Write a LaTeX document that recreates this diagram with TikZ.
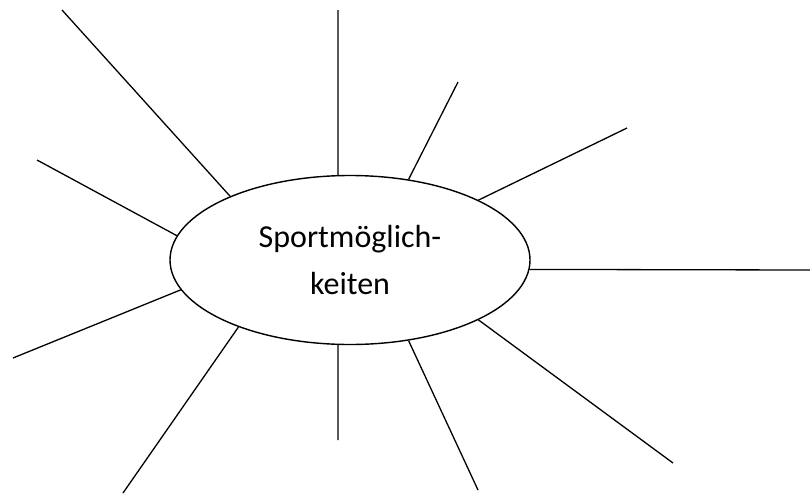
\documentclass[tikz,border=0pt]{standalone}
\usepackage{fontspec}
\setmainfont{Carlito}
\usetikzlibrary{shapes.geometric}
\begin{document}
\begin{tikzpicture}[x=1pt,y=-1pt,
  ray/.style={line width=1.3pt,black},
  bubble/.style={ellipse,draw,line width=1.4pt,minimum width=360pt,minimum height=169pt,inner sep=0pt,align=center,font=\fontsize{32}{47}\selectfont}]
\useasboundingbox (0,0) rectangle (810,493);
\node[bubble] (e) at (350,260) {Sportmöglich-\\keiten};
\coordinate (o1) at (62,10);
\coordinate (o2) at (338,10);
\coordinate (o3) at (458,82);
\coordinate (o4) at (627,128);
\coordinate (o5) at (810,270);
\coordinate (o6) at (673,463);
\coordinate (o7) at (478,490);
\coordinate (o8) at (338,440);
\coordinate (o9) at (123,493);
\coordinate (o10) at (13,358);
\coordinate (o11) at (37,160);
\draw[ray] (e.152.7) -- (o1);
\draw[ray] (e.98.2) -- (o2);
\draw[ray] (e.54.1) -- (o3);
\draw[ray] (e.25.2) -- (o4);
\draw[ray] (e.-3.6) -- (o5);
\draw[ray] (e.-25.2) -- (o6);
\draw[ray] (e.-54.8) -- (o7);
\draw[ray] (e.-98) -- (o8);
\draw[ray] (e.211.3) -- (o9);
\draw[ray] (e.190) -- (o10);
\draw[ray] (e.172) -- (o11);
\end{tikzpicture}
\end{document}
